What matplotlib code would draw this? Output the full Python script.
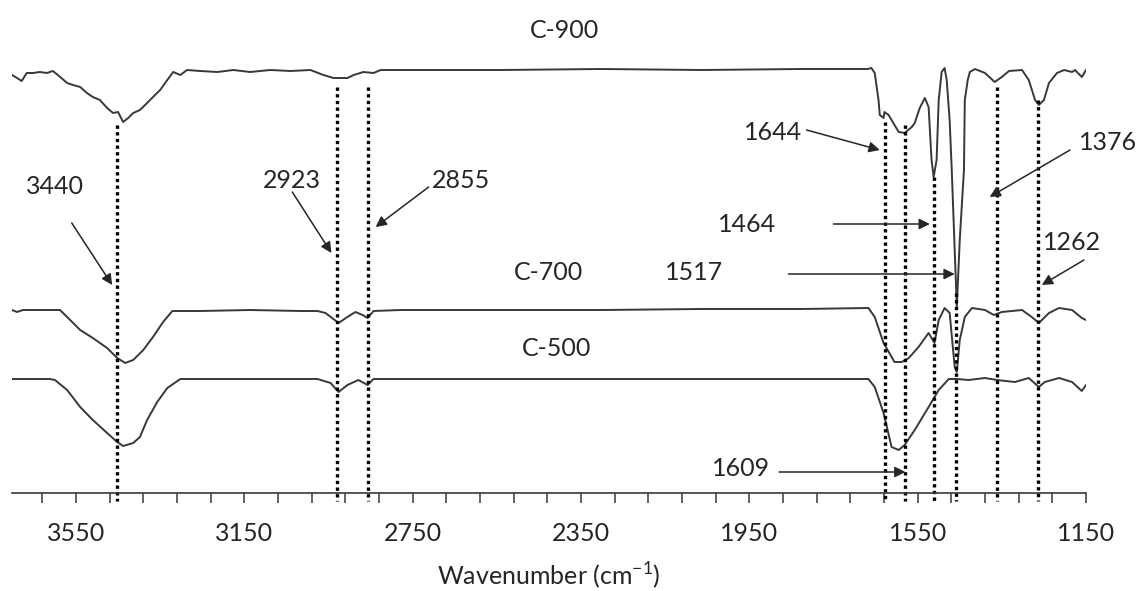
import matplotlib
matplotlib.use("Agg")
import matplotlib.pyplot as plt
import numpy as np

plt.rcParams['font.family'] = ['Lato', 'DejaVu Sans']
plt.rcParams['mathtext.fontset'] = 'custom'
plt.rcParams['mathtext.rm'] = 'Lato'

# spectra, stacked transmittance (a.u.)
c900_w = [3702, 3690, 3679, 3667, 3652, 3636, 3619, 3605, 3593, 3571, 3557, 3540, 3524, 3510,
          3493, 3476, 3462, 3450, 3438, 3426, 3414, 3398, 3381, 3367, 3350, 3333, 3319, 3302,
          3286, 3255, 3214, 3176, 3136, 3088, 3040, 2993, 2962, 2938, 2905, 2890, 2867, 2843,
          2826, 2779, 2540, 2302, 2064, 1826, 1669, 1660, 1652, 1643, 1640, 1631, 1629, 1619,
          1605, 1595, 1581, 1564, 1557, 1545, 1533, 1524, 1517, 1512, 1505, 1500, 1493, 1486,
          1481, 1474, 1469, 1462, 1457, 1450, 1440, 1438, 1431, 1426, 1414, 1390, 1367, 1350,
          1333, 1302, 1286, 1271, 1262, 1250, 1238, 1219, 1202, 1183, 1176, 1160, 1150]
c900_t = [418, 415, 412, 420, 420, 421, 420, 422, 418, 410, 408, 406, 400, 396,
          393, 385, 380, 381, 371, 375, 380, 383, 390, 396, 403, 413, 421, 418,
          423, 422, 421, 423, 421, 423, 422, 423, 418, 415, 415, 418, 421, 420,
          423, 423, 423, 424, 423, 424, 424, 425, 420, 393, 378, 375, 381, 378,
          368, 361, 360, 366, 370, 385, 395, 386, 333, 316, 333, 393, 421, 425,
          413, 373, 323, 243, 186, 253, 323, 393, 413, 421, 424, 420, 411, 416,
          422, 423, 413, 393, 388, 393, 410, 420, 423, 421, 423, 416, 423]

c700_w = [3702, 3690, 3676, 3636, 3588, 3571, 3540, 3510, 3476, 3452, 3433, 3414, 3390, 3367,
          3343, 3321, 3255, 3136, 3017, 2976, 2957, 2926, 2905, 2886, 2869, 2857, 2843, 2779,
          2540, 2302, 2064, 1826, 1667, 1652, 1631, 1605, 1588, 1571, 1548, 1524, 1517, 1510,
          1500, 1486, 1474, 1462, 1457, 1450, 1438, 1421, 1390, 1369, 1350, 1302, 1279, 1262,
          1238, 1214, 1183, 1160, 1150]
c700_t = [183, 181, 183, 183, 183, 176, 163, 155, 145, 135, 130, 133, 143, 156,
          171, 182, 182, 183, 182, 182, 180, 170, 176, 181, 178, 175, 182, 183,
          183, 183, 184, 184, 185, 176, 150, 131, 131, 135, 146, 160, 155, 150,
          173, 185, 180, 126, 121, 153, 176, 185, 183, 178, 181, 183, 176, 170,
          180, 185, 183, 175, 173]

c500_w = [3702, 3612, 3600, 3571, 3540, 3510, 3476, 3452, 3438, 3414, 3398, 3381, 3357, 3333,
          3302, 3136, 2976, 2945, 2926, 2905, 2879, 2857, 2843, 2779, 2302, 1826, 1667, 1652,
          1631, 1612, 1595, 1581, 1557, 1524, 1500, 1476, 1457, 1429, 1390, 1362, 1319, 1286,
          1262, 1248, 1214, 1183, 1160, 1150]
c500_t = [114, 114, 113, 103, 86, 73, 60, 51, 47, 50, 56, 73, 91, 105,
          114, 114, 114, 110, 101, 108, 113, 108, 114, 114, 114, 114, 114, 106,
          80, 46, 43, 48, 63, 86, 103, 114, 114, 113, 115, 113, 111, 115,
          106, 111, 115, 111, 102, 108]

# dotted marker lines: position, top
mark_w = [3452, 2929, 2857, 1627, 1580, 1510, 1459, 1362, 1263]
mark_top = [368, 406, 406, 371, 368, 316, 200, 406, 393]

# peak labels: text, text position, arrow tail, arrow head
peak_txt = ['3440', '2923', '2855', '1644', '1376', '1262', '1464', '1517', '1609']
peak_xy = [(3600, 306), (3036, 313), (2636, 313), (1893, 360), (1098, 351),
           (1183, 251), (1955, 269), (2081, 221), (1969, 25)]
tail_xy = [(3560, 270), (3036, 301), (2712, 306), (1814, 363), (1188, 343),
           (1155, 233), (1750, 269), (1857, 219), (1879, 21)]
head_xy = [(3464, 208), (2943, 240), (2838, 266), (1640, 343), (1379, 296),
           (1255, 208), (1521, 269), (1462, 219), (1579, 21)]

series_names = ['C-900', 'C-700', 'C-500']
name_xy = [(2390, 463), (2426, 220), (2409, 145)]

fig = plt.figure(figsize=(11.41, 5.91), dpi=100)
ax = fig.add_axes([12 / 1141, 98 / 591, 1074 / 1141, 493 / 591])

col = '#383838'
for w, t in [(c900_w, c900_t), (c700_w, c700_t), (c500_w, c500_t)]:
    ax.plot(w, t, color=col, lw=1.4)

for w, top in zip(mark_w, mark_top):
    ax.plot([w, w], [top, -8], color='black', lw=2.4, ls=(0, (1, 1)), clip_on=False)

for s, p, a, b in zip(peak_txt, peak_xy, tail_xy, head_xy):
    ax.text(p[0], p[1], s, fontsize=18, ha='center', va='center', color='#262626')
    ax.annotate('', xy=b, xytext=a,
                arrowprops=dict(arrowstyle='-|>', color='#262626', lw=1.1,
                                mutation_scale=16, shrinkA=0, shrinkB=0))

for s, p in zip(series_names, name_xy):
    ax.text(p[0], p[1], s, fontsize=18, ha='center', va='center', color='#262626')

ax.set_xlim(3702, 1150)
ax.set_ylim(0, 493)
ax.set_xticks(np.arange(3550, 1149, -400))
ax.set_xticks(np.arange(3630, 1149, -80), minor=True)
ax.tick_params(axis='x', which='both', direction='out', length=7, width=1.1,
               color=col, labelsize=18, pad=14, labelcolor='#262626')
ax.set_yticks([])
for s in ['left', 'right', 'top']:
    ax.spines[s].set_visible(False)
ax.spines['bottom'].set_color(col)
ax.spines['bottom'].set_linewidth(1.2)
ax.set_xlabel('Wavenumber (cm$^{-1}$)', fontsize=18, color='#262626', labelpad=11)

fig.savefig('out.png', dpi=100)
